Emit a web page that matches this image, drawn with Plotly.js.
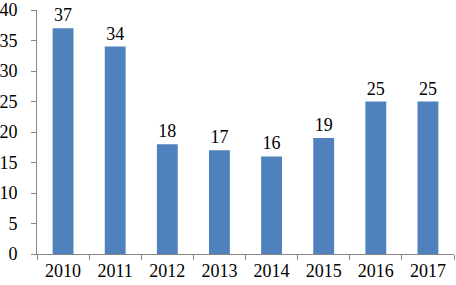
<!DOCTYPE html>
<html><head><meta charset="utf-8">
<script src="https://cdn.plot.ly/plotly-3.0.1.min.js"></script>
<style>html,body{margin:0;padding:0;background:#fff}#chart{width:456px;height:285px}</style>
</head><body><div id="chart"></div>
<script>
const years = ['2010','2011','2012','2013','2014','2015','2016','2017'];
const values = [37, 34, 18, 17, 16, 19, 25, 25];
const yTicks = [0,5,10,15,20,25,30,35,40];

const font = {family: 'Liberation Serif, Times New Roman, serif', size: 18, color: '#000'};
Plotly.newPlot('chart', [{
  type: 'bar', x: years, y: values,
  marker: {color: '#4F81BD'},
  width: 0.4,
  text: values.map(String), textposition: 'outside', cliponaxis: false,
  textfont: font
}], {
  width: 456, height: 285,
  margin: {l: 37, r: 2, t: 10, b: 31},
  paper_bgcolor: '#fff', plot_bgcolor: '#fff',
  font: font,
  showlegend: false,
  xaxis: {type: 'category', showline: true, linecolor: '#868686', linewidth: 1,
    ticks: 'outside', tickson: 'boundaries', ticklen: 5, tickcolor: '#868686',
    showgrid: false, tickfont: font, ticklabelstandoff: 0},
  yaxis: {range: [0, 40], tickvals: yTicks, showline: true, linecolor: '#868686', linewidth: 1,
    ticks: 'outside', ticklen: 5, tickcolor: '#868686', showgrid: false, zeroline: false,
    tickfont: font, ticklabelstandoff: 10, ticklabeloverflow: 'allow'},
}, {displayModeBar: false, staticPlot: true});
</script></body></html>
